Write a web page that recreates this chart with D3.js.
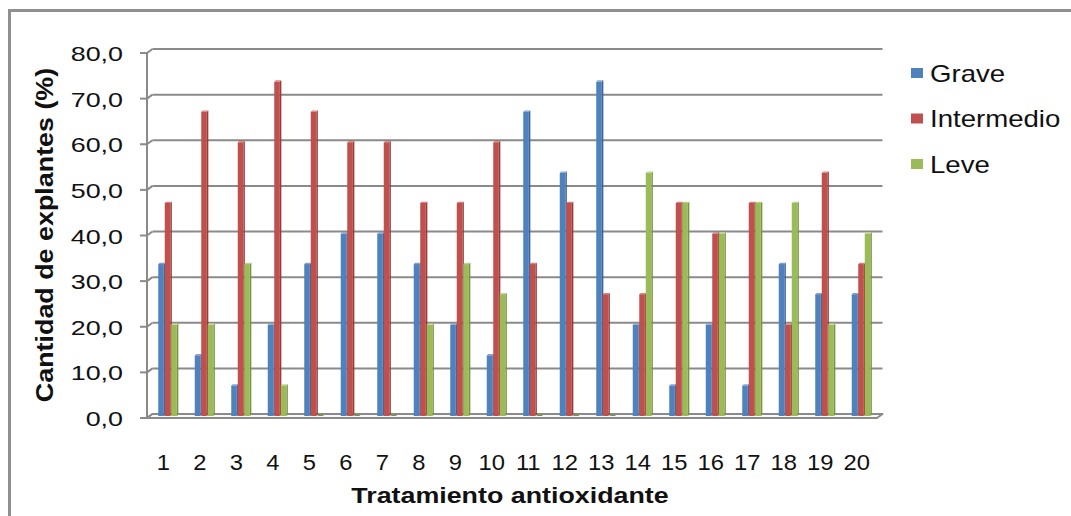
<!DOCTYPE html>
<html>
<head>
<meta charset="utf-8">
<script src="https://cdn.jsdelivr.net/npm/d3@7"></script>
<style>
  html, body { margin: 0; padding: 0; background: #fff; }
  svg { display: block; font-family: "Liberation Sans", Arial, sans-serif; }
</style>
</head>
<body>
<svg id="chart" width="1071" height="516"></svg>
<script>
// Tratamientos antioxidantes (1..20)
const categories = ["1","2","3","4","5","6","7","8","9","10","11","12","13","14","15","16","17","18","19","20"];
const seriesNames = ["Grave", "Intermedio", "Leve"];
// Porcentaje de explantes por nivel de oxidación
const grave      = [33.3, 13.3, 6.7, 20.0, 33.3, 40.0, 40.0, 33.3, 20.0, 13.3, 66.7, 53.3, 73.3, 20.0, 6.7, 20.0, 6.7, 33.3, 26.7, 26.7];
const intermedio = [46.7, 66.7, 60.0, 73.3, 66.7, 60.0, 60.0, 46.7, 46.7, 60.0, 33.3, 46.7, 26.7, 26.7, 46.7, 40.0, 46.7, 20.0, 53.3, 33.3];
const leve       = [20.0, 20.0, 33.3, 6.7, 0.0, 0.0, 0.0, 20.0, 33.3, 26.7, 0.0, 0.0, 0.0, 53.3, 46.7, 40.0, 46.7, 46.7, 20.0, 40.0];
const yTicks = [0, 10, 20, 30, 40, 50, 60, 70, 80];

const colors = {
  Grave:      { face: "#4f81bd", side: "#3b6394", top: "#7da2d0" },
  Intermedio: { face: "#c0504d", side: "#973c3a", top: "#d7807e" },
  Leve:       { face: "#9bbb59", side: "#789443", top: "#bcd48a" }
};
const seriesValues = { Grave: grave, Intermedio: intermedio, Leve: leve };

const svg = d3.select("#chart");

// outer chart frame
svg.append("rect")
  .attr("x", 9.5).attr("y", 10.5)
  .attr("width", 1100).attr("height", 560)
  .attr("fill", "#fff").attr("stroke", "#8f8f8f").attr("stroke-width", 3);

// 3-D depth offsets (front plane -> back wall)
const DX = 2.75, DY = 2;

const x = d3.scaleBand().domain(categories).range([147, 877]).padding(0);
const y = d3.scaleLinear().domain([0, 80]).range([416, 51]);

const grid = svg.append("g");
const gridColor = "#8a8a8a";

// back-wall gridlines + left-wall diagonals + axis ticks
yTicks.forEach(t => {
  const yf = y(t) + DY, yb = y(t) - DY;
  if (t > 0) {
    grid.append("line")
      .attr("x1", 147 + 2 * DX).attr("x2", 877 + 2 * DX)
      .attr("y1", yb).attr("y2", yb)
      .attr("stroke", gridColor).attr("stroke-width", 2);
  }
  grid.append("line")
    .attr("x1", 147).attr("y1", yf).attr("x2", 147 + 2 * DX).attr("y2", yb)
    .attr("stroke", gridColor).attr("stroke-width", 2);
  grid.append("line")
    .attr("x1", 140).attr("x2", 147).attr("y1", yf).attr("y2", yf)
    .attr("stroke", gridColor).attr("stroke-width", 2);
});

// floor
const y0f = y(0) + DY, y0b = y(0) - DY;
grid.append("path")
  .attr("d", `M147,${y0f} L877,${y0f} L${877 + 2 * DX},${y0b} L${147 + 2 * DX},${y0b} Z`)
  .attr("fill", "#fafafa").attr("stroke", gridColor).attr("stroke-width", 2)
  .attr("stroke-linejoin", "round");

// vertical axis line
grid.append("line")
  .attr("x1", 147).attr("x2", 147)
  .attr("y1", y(80) + DY).attr("y2", y0f)
  .attr("stroke", gridColor).attr("stroke-width", 2);

// y tick labels
const yLab = svg.append("g");
yTicks.forEach(t => {
  yLab.append("text")
    .attr("transform", `translate(123,${y(t) + DY + 8}) scale(1.28,1)`)
    .attr("text-anchor", "end")
    .attr("font-size", 21).attr("fill", "#111")
    .text(d3.format(".1f")(t).replace(".", ","));
});

// 3-D columns
const barW = 5.6, stride = 6.5, sdx = 1.5, sdy = 1.3;
const bars = svg.append("g");
categories.forEach((c, i) => {
  const cx = x(c) + x.bandwidth() / 2 + DX;
  const gx0 = cx - (stride * 3) / 2;
  seriesNames.forEach((s, k) => {
    const v = seriesValues[s][i];
    const x0 = gx0 + k * stride;
    const yt = y(v), yb = y(0);
    const col = colors[s];
    if (v > 0) {
      bars.append("path")
        .attr("d", `M${x0 + barW},${yt} L${x0 + barW + sdx},${yt - sdy} L${x0 + barW + sdx},${yb - sdy} L${x0 + barW},${yb} Z`)
        .attr("fill", col.side);
      bars.append("rect")
        .attr("x", x0).attr("y", yt)
        .attr("width", barW).attr("height", yb - yt)
        .attr("fill", col.face);
    }
    bars.append("path")
      .attr("d", `M${x0},${yt} L${x0 + barW},${yt} L${x0 + barW + sdx},${yt - sdy} L${x0 + sdx},${yt - sdy} Z`)
      .attr("fill", v > 0 ? col.top : col.side);
  });
});

// category labels
const xLab = svg.append("g");
categories.forEach(c => {
  xLab.append("text")
    .attr("transform", `translate(${x(c) + x.bandwidth() / 2 - 2},470) scale(1.08,1)`)
    .attr("text-anchor", "middle")
    .attr("font-size", 22).attr("fill", "#111")
    .text(c);
});

// axis titles
svg.append("text")
  .attr("transform", "translate(510,503) scale(1.22,1)")
  .attr("text-anchor", "middle")
  .attr("font-size", 22).attr("font-weight", "bold").attr("fill", "#111")
  .text("Tratamiento antioxidante");

svg.append("text")
  .attr("transform", "translate(53,235) rotate(-90) scale(1.12,1)")
  .attr("text-anchor", "middle")
  .attr("font-size", 24).attr("font-weight", "bold").attr("fill", "#111")
  .text("Cantidad de explantes (%)");

// legend
const legend = svg.append("g");
seriesNames.forEach((s, k) => {
  const cy = 73 + k * 45.5;
  legend.append("rect")
    .attr("x", 911).attr("y", cy - 5)
    .attr("width", 12).attr("height", 10)
    .attr("fill", colors[s].face);
  legend.append("text")
    .attr("transform", `translate(930,${cy + 8.5}) scale(1.2,1)`)
    .attr("font-size", 23).attr("fill", "#111")
    .text(s);
});
</script>
</body>
</html>
